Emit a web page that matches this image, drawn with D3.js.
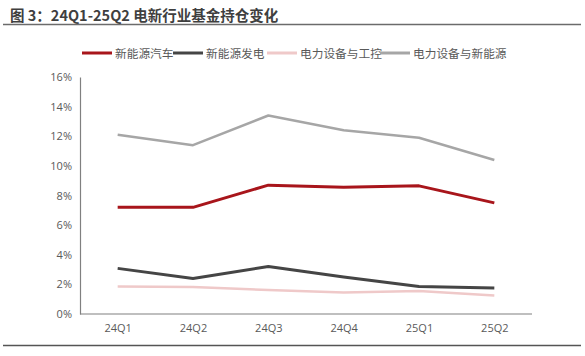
<!DOCTYPE html>
<html><head><meta charset="utf-8">
<script src="https://cdn.jsdelivr.net/npm/d3@7"></script>
<style>body{margin:0;background:#fff;}svg{display:block;font-family:"Noto Sans CJK SC","Noto Sans",sans-serif;}</style>
</head><body>
<svg id="c" width="585" height="356"></svg>
<script>
const categories = ["24Q1","24Q2","24Q3","24Q4","25Q1","25Q2"];
const seriesNames = ["新能源汽车","新能源发电","电力设备与工控","电力设备与新能源"];
const nev = [7.2,7.2,8.7,8.55,8.65,7.5];
const power = [3.08,2.4,3.2,2.5,1.85,1.75];
const equip = [1.85,1.82,1.62,1.45,1.55,1.25];
const total = [12.1,11.4,13.4,12.4,11.9,10.4];
const yTicks = [0,2,4,6,8,10,12,14,16];
const title = "图 3：24Q1-25Q2 电新行业基金持仓变化";

const seriesData = [nev, power, equip, total];
const colors = ["#a8151b","#454545","#efc9c9","#a6a6a6"];
const widths = [3,3,2.5,2.5];

const svg = d3.select("#c");
svg.append("text").attr("x",10).attr("y",21).attr("font-size",14.5).attr("font-weight","bold")
  .attr("fill","#3f3f3f").text(title);
svg.append("line").attr("x1",3).attr("x2",581).attr("y1",24.5).attr("y2",24.5).attr("stroke","#6b6b6b").attr("stroke-width",1.5);
svg.append("line").attr("x1",3).attr("x2",581).attr("y1",345.5).attr("y2",345.5).attr("stroke","#555").attr("stroke-width",1.5);

const x = d3.scalePoint().domain(categories).range([80,532]).padding(0.5);
const y = d3.scaleLinear().domain([0,16]).range([314,77]);

const ya = svg.append("g").attr("transform","translate(80,0)")
  .call(d3.axisLeft(y).tickValues(yTicks).tickFormat(d=>d+"%").tickSize(0).tickPadding(8));
ya.select(".domain").attr("stroke","#808080").attr("stroke-width",1.2);
ya.selectAll("text").attr("font-size",11).attr("fill","#595959").attr("font-family","'Open Sans','Noto Sans',sans-serif");

const xa = svg.append("g").attr("transform","translate(0,314)")
  .call(d3.axisBottom(x).tickSize(0).tickPadding(10));
xa.select(".domain").attr("stroke","#808080").attr("stroke-width",1.2).attr("d","M80,0H532");
xa.selectAll("text").attr("font-size",11).attr("fill","#595959").attr("font-family","'Open Sans','Noto Sans',sans-serif");

const line = d3.line().x((d,i)=>x(categories[i])).y(d=>y(d));
[2,3,1,0].forEach(k=>{
  svg.append("path").datum(seriesData[k]).attr("d",line).attr("fill","none")
    .attr("stroke",colors[k]).attr("stroke-width",widths[k]).attr("stroke-linejoin","round");
});

const legX = [82,173,267,380];
seriesNames.forEach((n,k)=>{
  svg.append("line").attr("x1",legX[k]).attr("x2",legX[k]+30).attr("y1",53).attr("y2",53)
    .attr("stroke",colors[k]).attr("stroke-width",3);
  svg.append("text").attr("x",legX[k]+33).attr("y",57.5).attr("font-size",11.7).attr("fill","#595959").text(n);
});
</script>
</body></html>
